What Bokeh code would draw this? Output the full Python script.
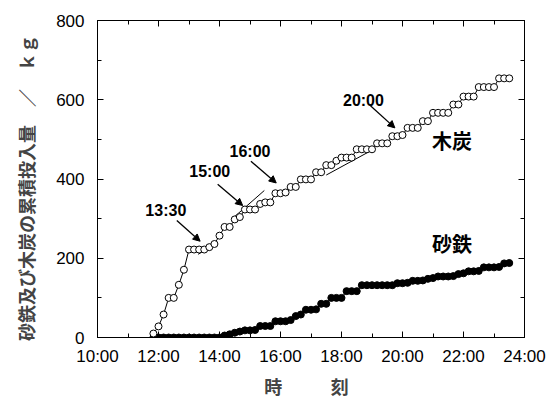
from bokeh.plotting import figure
from bokeh.models import FixedTicker, LinearAxis, Arrow, NormalHead, ColumnDataSource
from bokeh.core.properties import value
from bokeh.embed import file_html
from bokeh.resources import INLINE

# ---- data ----
times = ["11:50", "12:00", "12:10", "12:20", "12:30", "12:40", "12:50",
         "13:00", "13:10", "13:20", "13:30", "13:40", "13:50",
         "14:00", "14:10", "14:20", "14:30", "14:40", "14:50",
         "15:00", "15:10", "15:20", "15:30", "15:40", "15:50",
         "16:00", "16:10", "16:20", "16:30", "16:40", "16:50",
         "17:00", "17:10", "17:20", "17:30", "17:40", "17:50",
         "18:00", "18:10", "18:20", "18:30", "18:40", "18:50",
         "19:00", "19:10", "19:20", "19:30", "19:40", "19:50",
         "20:00", "20:10", "20:20", "20:30", "20:40", "20:50",
         "21:00", "21:10", "21:20", "21:30", "21:40", "21:50",
         "22:00", "22:10", "22:20", "22:30", "22:40", "22:50",
         "23:00", "23:10", "23:20", "23:30"]

charcoal = [10, 28, 58, 100, 100, 133, 171,
            222, 222, 222, 222, 228, 236,
            257, 279, 279, 298, 304, 323,
            323, 323, 337, 341, 341, 364,
            364, 366, 380, 380, 399, 399,
            399, 417, 417, 435, 435, 446,
            454, 454, 454, 475, 475, 475,
            475, 490, 490, 490, 508, 508,
            511, 529, 529, 529, 546, 546,
            567, 567, 567, 567, 588, 588,
            608, 608, 608, 632, 632, 632,
            632, 654, 654, 654]

iron_sand = [0, 0, 0, 0, 0, 0, 0,
             0, 0, 0, 0, 0, 0,
             0, 5, 8, 12, 15, 18,
             18, 19, 29, 29, 29, 41,
             41, 41, 44, 54, 58, 70,
             70, 71, 85, 85, 100, 100,
             100, 117, 117, 117, 132, 132,
             132, 132, 132, 132, 132, 137,
             137, 138, 143, 143, 144, 148,
             150, 154, 154, 154, 155, 160,
             162, 167, 167, 168, 177, 177,
             177, 178, 187, 188]

x_ticks = [10, 12, 14, 16, 18, 20, 22, 24]
x_tick_labels = ["10:00", "12:00", "14:00", "16:00", "18:00", "20:00", "22:00", "24:00"]
x_minor = [11, 13, 15, 17, 19, 21, 23]
y_ticks = [0, 200, 400, 600, 800]
y_minor = [100, 300, 500, 700]

# time annotations with arrows (time in hours, value in kg)
ann_text = ["13:30", "15:00", "16:00", "20:00"]
ann_tx = [12.24, 13.68, 15.0, 18.72]
ann_ty = [320, 420, 470, 597]
arr_x0 = [12.60, 13.94, 15.03, 18.95]
arr_y0 = [295, 387, 445, 585]
arr_x1 = [13.365, 14.76, 15.86, 19.75]
arr_y1 = [243, 333, 390, 529]

# thin tangent segments
tan_x0 = [13.30, 14.48, 17.50]
tan_y0 = [210, 304, 410]
tan_x1 = [13.67, 15.47, 19.05]
tan_y1 = [227, 371, 475]

series_names = ["木炭", "砂鉄"]
series_lx = [21.62, 21.62]
series_ly = [497, 237]

t_hours = [int(s.split(":")[0]) + int(s.split(":")[1]) / 60 for s in times]
src = ColumnDataSource(dict(t=t_hours, c=charcoal, f=iron_sand))

p = figure(width=553, height=401, x_range=(10, 24), y_range=(0, 800),
           output_backend="svg", toolbar_location=None)
p.min_border_left = 97
p.min_border_right = 29
p.min_border_top = 20
p.min_border_bottom = 61
p.xgrid.visible = False
p.ygrid.visible = False
p.outline_line_color = "black"
p.outline_line_width = 1
p.background_fill_color = "white"
p.border_fill_color = "white"


def style_axis(ax, ticks, minor, show_labels):
    ax.ticker = FixedTicker(ticks=ticks, minor_ticks=minor)
    ax.major_tick_in = 6
    ax.major_tick_out = 0
    ax.minor_tick_in = 4
    ax.minor_tick_out = 0
    ax.axis_line_color = "black"
    ax.major_tick_line_color = "black"
    ax.minor_tick_line_color = "black"
    ax.major_label_text_font = "Liberation Sans"
    ax.major_label_text_font_size = "17px"
    ax.major_label_text_color = "black"
    if not show_labels:
        ax.major_label_text_color = None
        ax.major_label_standoff = 0


xa = p.xaxis[0]
ya = p.yaxis[0]
style_axis(xa, x_ticks, x_minor, True)
style_axis(ya, y_ticks, y_minor, True)
xa.major_label_overrides = {k: v for k, v in zip(x_ticks, x_tick_labels)}
xa.major_label_standoff = 9
ya.major_label_standoff = 13

xa.axis_label = "時\u3000\u3000\u2002\u2009刻\u2002"
xa.axis_label_text_font = "Noto Sans CJK JP"
xa.axis_label_text_font_style = "bold"
xa.axis_label_text_font_size = "18px"
xa.axis_label_standoff = 4

ya.axis_label = "砂鉄及び木炭の累積投入量\u3000／\u3000ｋｇ\u3000"
ya.axis_label_text_font = "Noto Sans CJK JP"
ya.axis_label_text_font_style = "bold"
ya.axis_label_text_font_size = "18px"
ya.axis_label_standoff = 14

top = LinearAxis()
right = LinearAxis()
style_axis(top, x_ticks, x_minor, False)
style_axis(right, y_ticks, y_minor, False)
p.add_layout(top, "above")
p.add_layout(right, "right")

# tangent lines
p.segment(x0=tan_x0, y0=tan_y0, x1=tan_x1, y1=tan_y1, line_color="black", line_width=1)

# series
p.line("t", "f", source=src, line_color="black", line_width=1)
p.scatter("t", "f", source=src, marker="circle", size=7,
          fill_color="black", line_color="black", line_width=1)
p.line("t", "c", source=src, line_color="black", line_width=1)
p.scatter("t", "c", source=src, marker="circle", size=7,
          fill_color="white", line_color="black", line_width=1)

# arrows and time annotations
for x0, y0, x1, y1 in zip(arr_x0, arr_y0, arr_x1, arr_y1):
    p.add_layout(Arrow(end=NormalHead(size=7, fill_color="black", line_color="black"),
                       x_start=x0, y_start=y0, x_end=x1, y_end=y1,
                       line_color="black", line_width=1.3))

p.text(x=ann_tx, y=ann_ty, text=ann_text, text_font=value("Liberation Sans"),
       text_font_style="bold", text_font_size="16px", text_align="center",
       text_baseline="middle", text_color="black")

p.text(x=series_lx, y=series_ly, text=series_names,
       text_font=value("Noto Sans CJK JP"), text_font_style="bold",
       text_font_size="20px", text_align="center", text_baseline="middle",
       text_color="black")

open("out.html", "w").write(file_html(p, INLINE))
